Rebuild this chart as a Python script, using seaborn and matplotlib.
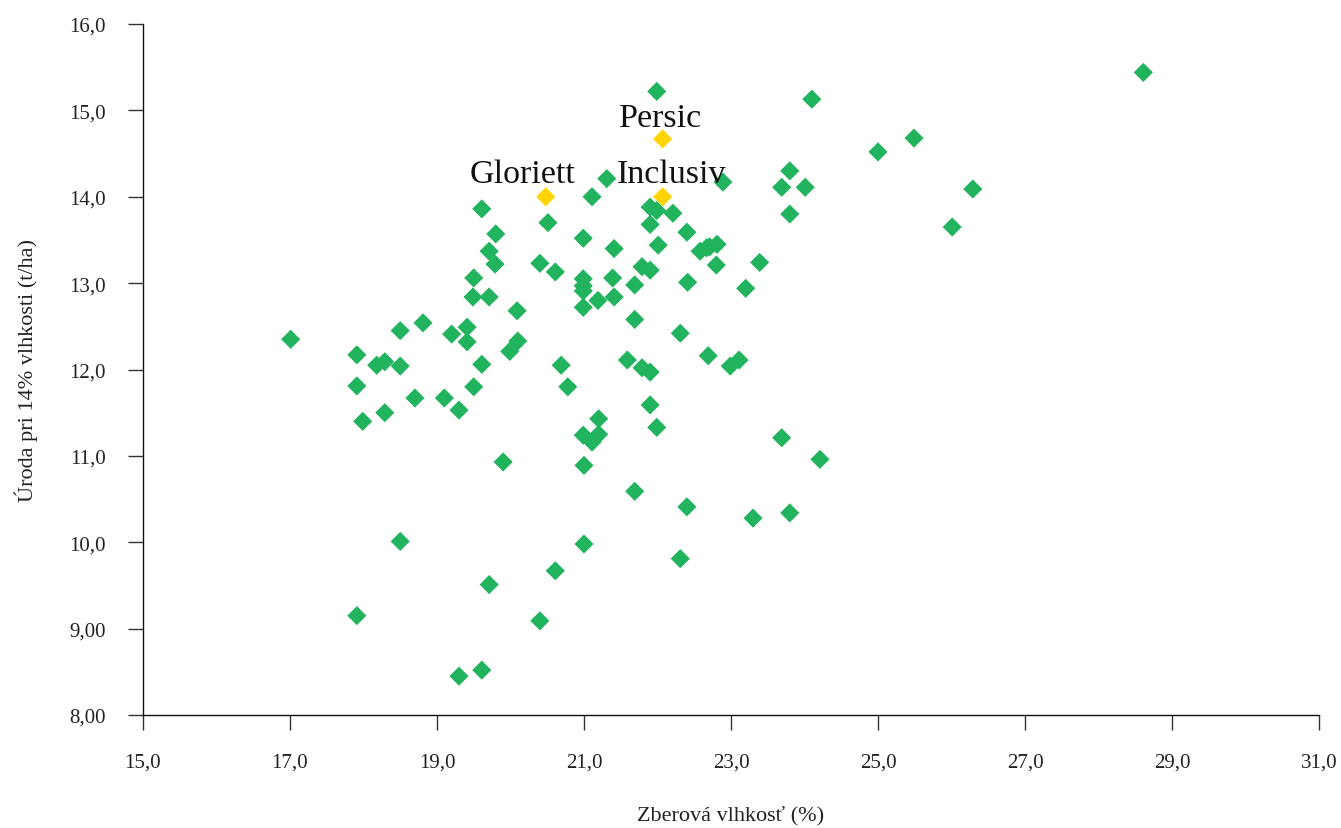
import numpy as np
import matplotlib.pyplot as plt
import pandas as pd
import seaborn as sns

# Hodnoty odčítané z grafu (zberová vlhkosť %, úroda t/ha)
vlhkost = [28.61, 21.99, 24.10, 25.49, 25.00, 21.31, 22.89, 23.80, 23.69, 24.01,
           26.29, 21.11, 19.61, 21.90, 21.99, 22.21, 23.80, 20.51, 21.90, 26.01,
           19.80, 20.99, 22.40, 19.71, 21.41, 22.01, 22.58, 22.67, 22.71, 22.81,
           19.79, 20.40, 20.61, 23.39, 22.80, 21.79, 21.90, 19.50, 20.99, 20.99,
           20.99, 21.39, 21.69, 22.41, 19.49, 19.71, 21.19, 21.41, 23.20, 20.99,
           20.09, 18.81, 21.69, 19.41, 18.50, 19.20, 22.31, 19.41, 17.01, 20.10,
           19.99, 21.59, 22.69, 23.11, 22.99, 17.91, 18.18, 18.29, 18.50, 19.61,
           20.69, 21.79, 21.90, 17.91, 19.50, 20.78, 18.70, 19.10, 19.30, 21.90,
           18.29, 21.20, 17.99, 21.99, 23.69, 20.99, 21.11, 21.20, 24.21, 19.90,
           21.00, 21.69, 22.40, 23.80, 23.30, 18.50, 21.00, 22.31, 20.61, 19.71,
           17.91, 20.40, 19.61, 19.30]
uroda = [15.44, 15.22, 15.13, 14.68, 14.52, 14.21, 14.17, 14.30, 14.11, 14.11,
         14.09, 14.00, 13.86, 13.88, 13.84, 13.81, 13.80, 13.70, 13.68, 13.65,
         13.57, 13.52, 13.59, 13.37, 13.40, 13.44, 13.37, 13.41, 13.42, 13.45,
         13.22, 13.23, 13.13, 13.24, 13.21, 13.19, 13.15, 13.06, 13.05, 12.97,
         12.91, 13.06, 12.98, 13.01, 12.84, 12.84, 12.80, 12.84, 12.94, 12.72,
         12.68, 12.54, 12.58, 12.49, 12.45, 12.41, 12.42, 12.32, 12.35, 12.33,
         12.21, 12.11, 12.16, 12.11, 12.04, 12.17, 12.05, 12.09, 12.04, 12.06,
         12.05, 12.02, 11.97, 11.81, 11.80, 11.80, 11.67, 11.67, 11.53, 11.59,
         11.50, 11.43, 11.40, 11.33, 11.21, 11.24, 11.16, 11.25, 10.96, 10.93,
         10.89, 10.59, 10.41, 10.34, 10.28, 10.01, 9.98, 9.81, 9.67, 9.51,
         9.15, 9.09, 8.52, 8.45]

# Zvýraznené odrody
odrody = ["Persic", "Gloriett", "Inclusiv"]
odrody_vlhkost = [22.07, 20.48, 22.07]
odrody_uroda = [14.67, 14.00, 14.00]

x_ticks = [15, 17, 19, 21, 23, 25, 27, 29, 31]
y_ticks = [8, 9, 10, 11, 12, 13, 14, 15, 16]

df = pd.DataFrame({
    "vlhkost": vlhkost + odrody_vlhkost,
    "uroda": uroda + odrody_uroda,
    "skupina": ["ostatne"] * len(vlhkost) + ["odroda"] * len(odrody),
})

sns.set_style("ticks")
plt.rcParams["font.family"] = ["Liberation Serif", "DejaVu Serif"]

fig = plt.figure(figsize=(13.41, 8.29), dpi=100)
ax = fig.add_axes([0.1066, 0.1363, 0.877, 0.8335])

sns.scatterplot(data=df, x="vlhkost", y="uroda", hue="skupina",
                palette={"ostatne": "#21B35D", "odroda": "#FFD400"},
                marker="D", s=95, linewidth=0, legend=False, ax=ax)

# Popisky odrôd
posuny = {"Persic": (-1.5, 9.5), "Gloriett": (-16.5, 11), "Inclusiv": (6.5, 11)}
for nazov, xv, yv in zip(odrody, odrody_vlhkost, odrody_uroda):
    ax.annotate(nazov, (xv, yv), xytext=posuny[nazov], textcoords="offset points",
                ha="center", va="baseline", fontsize=24.5, color="#111111")

ax.set_xlim(15, 31)
ax.set_ylim(8, 16)
ax.set_xticks(x_ticks)
ax.set_yticks(y_ticks)
ax.set_xticklabels([f"{v:.1f}".replace(".", ",") for v in x_ticks])
ax.set_yticklabels([(f"{v:.2f}" if v < 10 else f"{v:.1f}").replace(".", ",") for v in y_ticks])

ax.set_xlabel("Zberová vlhkosť (%)", fontsize=16, labelpad=24, color="#222222")
ax.set_ylabel("Úroda pri 14% vlhkosti (t/ha)", fontsize=16, labelpad=22, color="#222222")

ax.tick_params(direction="out", length=11, width=1, pad=16, labelsize=15,
               colors="#333333", labelcolor="#222222")
for side in ["left", "bottom"]:
    ax.spines[side].set_linewidth(1.0)
    ax.spines[side].set_color("#111111")
sns.despine(ax=ax)

fig.savefig("out.png", dpi=100)
